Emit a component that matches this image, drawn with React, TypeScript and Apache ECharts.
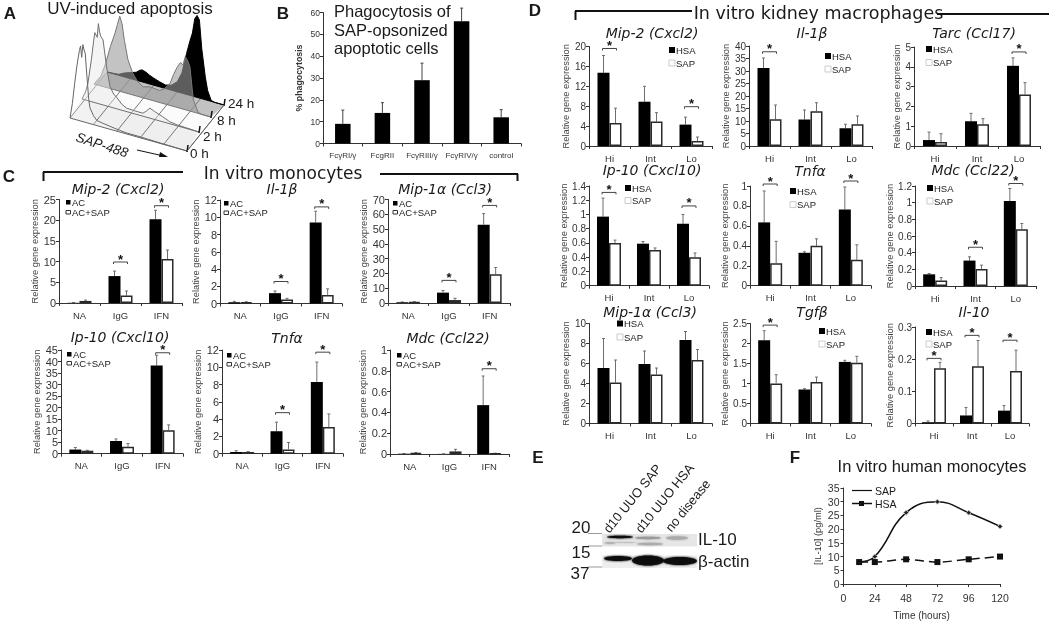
import React, { useEffect, useRef } from "react";
import * as echarts from "echarts";

// ---------- DATA ----------
const treatCats = ["NA", "IgG", "IFN"];
const subsetCats = ["Hi", "Int", "Lo"];
const receptorCats = ["FcγRI/γ", "FcgRII", "FcγRIII/γ", "FcγRIV/γ", "control"];
const phagoValues = [9, 14, 29, 56, 12];
const phagoUpper = [15.3, 18.7, 36.8, 62, 15.5];

// panel C: [AC, AC upper error, AC+SAP, AC+SAP upper error, significance brackets [category, level]]
const cMip2Ac = [0.05, 6.5, 20.2];
const cMip2AcUp = [0.1, 7.7, 22.4];
const cMip2Sap = [0.5, 1.8, 10.6];
const cMip2SapUp = [0.7, 2.9, 12.8];
const cMip2Sig = [[1, 9.9], [2, 23.5]];
const cIl1Ac = [0.15, 1.2, 9.4];
const cIl1AcUp = [0.25, 1.45, 10.7];
const cIl1Sap = [0.15, 0.45, 1.0];
const cIl1SapUp = [0.2, 0.6, 1.7];
const cIl1Sig = [[1, 2.55], [2, 11.2]];
const cMip1Ac = [0.5, 7, 53];
const cMip1AcUp = [0.7, 8.5, 60.5];
const cMip1Sap = [0.7, 2, 19.5];
const cMip1SapUp = [0.9, 3.2, 24];
const cMip1Sig = [[1, 15.3], [2, 66]];
const cIp10Ac = [1.8, 5.5, 38.3];
const cIp10AcUp = [2.7, 6.4, 42.7];
const cIp10Sap = [1.3, 3.0, 10.2];
const cIp10SapUp = [1.5, 4.4, 12.5];
const cIp10Sig = [[2, 43.8]];
const cTnfAc = [0.2, 2.6, 8.3];
const cTnfAcUp = [0.35, 3.65, 10.6];
const cTnfSap = [0.2, 0.5, 3.1];
const cTnfSapUp = [0.25, 1.3, 4.6];
const cTnfSig = [[1, 4.75], [2, 11.75]];
const cMdcAc = [0.003, 0.001, 0.47];
const cMdcAcUp = [0.004, 0.002, 0.75];
const cMdcSap = [0.012, 0.025, 0.006];
const cMdcSapUp = [0.014, 0.045, 0.008];
const cMdcSig = [[2, 0.82]];

// panel D
const dMip2Hsa = [14.7, 8.9, 4.3];
const dMip2HsaUp = [18.2, 12, 5.8];
const dMip2Sap = [4.6, 4.9, 1.0];
const dMip2SapUp = [7.6, 6.7, 1.8];
const dMip2Sig = [[0, 19.6], [2, 7.9]];
const dIl1Hsa = [31.2, 10.6, 7.1];
const dIl1HsaUp = [35.2, 14.4, 8.7];
const dIl1Sap = [10.7, 13.9, 8.7];
const dIl1SapUp = [16.4, 17.3, 12];
const dIl1Sig = [[0, 37.7]];
const dTarcHsa = [0.3, 1.25, 4.05];
const dTarcHsaUp = [0.7, 1.65, 4.45];
const dTarcSap = [0.2, 1.1, 2.6];
const dTarcSapUp = [0.62, 1.38, 3.2];
const dTarcSig = [[2, 4.75]];
const dIp10Hsa = [0.97, 0.59, 0.87];
const dIp10HsaUp = [1.23, 0.62, 1.0];
const dIp10Sap = [0.6, 0.5, 0.4];
const dIp10SapUp = [0.64, 0.53, 0.46];
const dIp10Sig = [[0, 1.31], [2, 1.12]];
const dTnfHsa = [0.635, 0.33, 0.765];
const dTnfHsaUp = [0.95, 0.34, 0.99];
const dTnfSap = [0.225, 0.4, 0.26];
const dTnfSapUp = [0.445, 0.47, 0.41];
const dTnfSig = [[0, 1.02], [2, 1.05]];
const dMdcHsa = [0.14, 0.305, 1.02];
const dMdcHsaUp = [0.15, 0.35, 1.17];
const dMdcSap = [0.065, 0.205, 0.68];
const dMdcSapUp = [0.1, 0.25, 0.75];
const dMdcSig = [[1, 0.465], [2, 1.23]];
const dMip1Hsa = [5.55, 5.95, 8.35];
const dMip1HsaUp = [8.5, 7.25, 9.2];
const dMip1Sap = [4.1, 4.9, 6.35];
const dMip1SapUp = [6.35, 5.55, 7.4];
const dTgfHsa = [2.08, 0.85, 1.54];
const dTgfHsaUp = [2.32, 0.87, 1.58];
const dTgfSap = [1.0, 1.04, 1.52];
const dTgfSapUp = [1.22, 1.16, 1.68];
const dTgfSig = [[0, 2.46]];
const dIl10Hsa = [0.004, 0.025, 0.04];
const dIl10HsaUp = [0.008, 0.05, 0.056];
const dIl10Sap = [0.172, 0.178, 0.163];
const dIl10SapUp = [0.19, 0.258, 0.228];
const dIl10Sig = [[0, 0.2025], [1, 0.274], [2, 0.259]];

// panel F
const timeHours = [12, 24, 48, 72, 96, 120];
const il10Sap = [8, 10, 26, 30, 26, 21];
const il10Hsa = [8, 8, 9, 8, 9, 10];

// panel A: histograms as [SAP-488 channel 0-100, height]
const hist0h = [[0,0],[2,15],[4,36],[6,55],[8,70],[9,75],[10,64],[11,77],[12,72],[13,69],[14.5,46],[16,24],[17,16],[20,9],[23,5],[28,4],[34,3],[40,2],[48,1],[60,1],[75,0.5],[100,0]];
const hist2h = [[0,0],[3,8],[5,17],[8,42],[10,62],[11,70],[13,66],[14,80],[15,72],[16,68],[18,65],[21,39],[24,20],[27,14],[30,11],[34,6],[38,3.5],[45,3],[52,3],[55,6],[58,10],[62,8],[69,5],[75,2],[81,1],[100,0]];
const hist8h = [[0,0],[6,10],[10,24],[14,42],[18,57],[20,66],[22,75],[24,68],[26,52],[29,34],[33,22],[37,15],[42,11],[48,13],[56,12],[60,15],[65,22],[68,32],[71,40],[74,46],[76,44],[78,53],[80,50],[82,44],[84,22],[85,12],[89,1],[92,0],[100,0]];
const hist24h = [[0,0],[10,1],[15,4],[20,6],[25,8],[28,11],[30,12],[33,11],[36,9],[40,7],[45,5],[50,3.5],[55,5],[60,10],[64,20],[68,41],[71,55],[73,63],[75,78],[77,82],[79,78],[81,50],[84,23],[86,10],[89,1],[92,0],[100,0]];
const floorGuides = [0, 20, 40, 60, 80, 100];

// ---------- LAYOUT ----------
const SANS = '"Liberation Sans", Arial, sans-serif';
const VERD = '"DejaVu Sans", Verdana, sans-serif';
const BAR_C = 12;

const fmtNone = undefined;

type P = any;
const panels: P[] = [
  { box: [59, 182, 199.5, 303], max: 25, step: 5, cats: treatCats, a: cMip2Ac, au: cMip2AcUp, b: cMip2Sap, bu: cMip2SapUp, sig: cMip2Sig, names: ["AC", "AC+SAP"], tick: 11, gap: 11 },
  { box: [220, 342, 200, 303.5], max: 12, step: 2, cats: treatCats, a: cIl1Ac, au: cIl1AcUp, b: cIl1Sap, bu: cIl1SapUp, sig: cIl1Sig, names: ["AC", "AC+SAP"], tick: 11, gap: 11 },
  { box: [388, 510, 199.5, 303], max: 70, step: 10, cats: treatCats, a: cMip1Ac, au: cMip1AcUp, b: cMip1Sap, bu: cMip1SapUp, sig: cMip1Sig, names: ["AC", "AC+SAP"], tick: 11, gap: 11 },
  { box: [61, 183, 350, 453.7], max: 45, step: 5, cats: treatCats, a: cIp10Ac, au: cIp10AcUp, b: cIp10Sap, bu: cIp10SapUp, sig: cIp10Sig, names: ["AC", "AC+SAP"], tick: 11, gap: 11 },
  { box: [222, 343, 350, 453.7], max: 12, step: 2, cats: treatCats, a: cTnfAc, au: cTnfAcUp, b: cTnfSap, bu: cTnfSapUp, sig: cTnfSig, names: ["AC", "AC+SAP"], tick: 11, gap: 11 },
  { box: [390, 509, 350, 454], max: 1, step: 0.2, cats: treatCats, a: cMdcAc, au: cMdcAcUp, b: cMdcSap, bu: cMdcSapUp, sig: cMdcSig, names: ["AC", "AC+SAP"], tick: 11, gap: 17 },
  { box: [589, 712, 46.5, 146], max: 20, step: 4, cats: subsetCats, a: dMip2Hsa, au: dMip2HsaUp, b: dMip2Sap, bu: dMip2SapUp, sig: dMip2Sig, names: ["HSA", "SAP"], tick: 10, gap: 12 },
  { box: [749, 872, 46, 146], max: 40, step: 5, cats: subsetCats, a: dIl1Hsa, au: dIl1HsaUp, b: dIl1Sap, bu: dIl1SapUp, sig: dIl1Sig, names: ["HSA", "SAP"], tick: 10, gap: 12 },
  { box: [914, 1040, 47, 146], max: 5, step: 1, cats: subsetCats, a: dTarcHsa, au: dTarcHsaUp, b: dTarcSap, bu: dTarcSapUp, sig: dTarcSig, names: ["HSA", "SAP"], tick: 10, gap: 9 },
  { box: [589, 709, 186, 285.7], max: 1.4, step: 0.2, cats: subsetCats, a: dIp10Hsa, au: dIp10HsaUp, b: dIp10Sap, bu: dIp10SapUp, sig: dIp10Sig, names: ["HSA", "SAP"], tick: 10, gap: 17 },
  { box: [750, 871, 186, 285.7], max: 1, step: 0.2, cats: subsetCats, a: dTnfHsa, au: dTnfHsaUp, b: dTnfSap, bu: dTnfSapUp, sig: dTnfSig, names: ["HSA", "SAP"], tick: 10, gap: 17 },
  { box: [915, 1036, 186, 286], max: 1.2, step: 0.2, cats: subsetCats, a: dMdcHsa, au: dMdcHsaUp, b: dMdcSap, bu: dMdcSapUp, sig: dMdcSig, names: ["HSA", "SAP"], tick: 10, gap: 17 },
  { box: [589, 712, 323.5, 423.5], max: 10, step: 2, cats: subsetCats, a: dMip1Hsa, au: dMip1HsaUp, b: dMip1Sap, bu: dMip1SapUp, sig: [], names: ["HSA", "SAP"], tick: 10, gap: 12 },
  { box: [750, 871, 323.5, 423.5], max: 2.5, step: 0.5, cats: subsetCats, a: dTgfHsa, au: dTgfHsaUp, b: dTgfSap, bu: dTgfSapUp, sig: dTgfSig, names: ["HSA", "SAP"], tick: 10, gap: 17 },
  { box: [915, 1029, 327, 423.5], max: 0.3, step: 0.1, cats: subsetCats, a: dIl10Hsa, au: dIl10HsaUp, b: dIl10Sap, bu: dIl10SapUp, sig: dIl10Sig, names: ["HSA", "SAP"], tick: 10, gap: 17 },
];

const titles: [string, number, number][] = [
  ["Mip-2 (Cxcl2)", 118, 189], ["Il-1β", 282, 189], ["Mip-1α (Ccl3)", 445, 189],
  ["Ip-10 (Cxcl10)", 120, 337], ["Tnfα", 287, 338], ["Mdc (Ccl22)", 448, 338],
  ["Mip-2 (Cxcl2)", 652, 33], ["Il-1β", 812, 33], ["Tarc (Ccl17)", 974, 33],
  ["Ip-10 (Cxcl10)", 652, 170], ["Tnfα", 810, 171], ["Mdc (Ccl22)", 973, 170],
  ["Mip-1α (Ccl3)", 650, 312], ["Tgfβ", 812, 312], ["Il-10", 974, 312],
];

const legendsC: [number, number, number][] = [[68, 202, 212], [226, 203, 212.5], [395, 203, 212], [69, 354, 363], [229, 355, 364], [399, 355, 364]];
const legendsD: [number, number, number][] = [[672, 50, 63], [828, 56, 69], [929, 49, 62.5], [628, 188, 200.5], [793, 191, 204.6], [930, 188, 201], [620, 323.5, 337], [822, 331, 344], [929, 332, 344]];

// ---------- HELPERS ----------
const txt = (text: string, x: number, y: number, size: number, o: any = {}) => ({
  type: "text", x, y, rotation: o.rotation || 0, silent: true,
  style: {
    text, fontSize: size, fontFamily: o.family || SANS, fontStyle: o.italic ? "italic" : "normal",
    fontWeight: o.bold ? "bold" : "normal", fill: o.color || "#1a1a1a",
    align: o.align || "center", verticalAlign: "middle",
  },
});
const seg = (x1: number, y1: number, x2: number, y2: number, w: number, c = "#111") => ({
  type: "line", silent: true, shape: { x1, y1, x2, y2 }, style: { stroke: c, lineWidth: w },
});
const box = (x: number, y: number, w: number, h: number, fill: string, stroke?: string) => ({
  type: "rect", silent: true, shape: { x, y, width: w, height: h }, style: { fill, stroke: stroke || "none", lineWidth: 1 },
});

function errorSeries(i: number, lo: number[], up: number[], offset: number, color = "#6f6f6f") {
  return {
    type: "custom", xAxisIndex: i, yAxisIndex: i, clip: false, silent: true, z: 1,
    encode: { x: 0, y: [1, 2] },
    data: lo.map((v, k) => [k, v, up[k]]),
    renderItem: (_: any, api: any) => {
      const a = api.coord([api.value(0), api.value(1)]);
      const b = api.coord([api.value(0), api.value(2)]);
      const x = a[0] + offset;
      return {
        type: "group",
        children: [
          { type: "line", shape: { x1: x, y1: a[1], x2: x, y2: b[1] }, style: { stroke: color, lineWidth: 1 } },
          { type: "line", shape: { x1: x - 1.5, y1: b[1], x2: x + 1.5, y2: b[1] }, style: { stroke: color, lineWidth: 1 } },
        ],
      };
    },
  };
}

function sigSeries(i: number, sig: number[][]) {
  return {
    type: "custom", xAxisIndex: i, yAxisIndex: i, clip: false, silent: true, z: 3,
    encode: { x: 0, y: 1 },
    data: sig,
    renderItem: (_: any, api: any) => {
      const c = api.coord([api.value(0), api.value(1)]);
      return {
        type: "group",
        children: [
          { type: "polyline", shape: { points: [[c[0] - 7, c[1] + 2], [c[0] - 7, c[1]], [c[0] + 7, c[1]], [c[0] + 7, c[1] + 2]] }, style: { stroke: "#444", fill: "none", lineWidth: 1 } },
          { type: "text", style: { x: c[0], y: c[1] - 3, text: "*", fontSize: 13, fontWeight: "bold", fontFamily: SANS, fill: "#111", align: "center", verticalAlign: "middle" } },
        ],
      };
    },
  };
}

function buildOption() {
  const grid: any[] = [], xAxis: any[] = [], yAxis: any[] = [], series: any[] = [];
  const axisLine = { lineStyle: { color: "#333", width: 1 } };

  panels.forEach((p) => {
    const i = grid.length;
    const [x0, x1, top, bottom] = p.box;
    grid.push({ left: x0, width: x1 - x0, top, height: bottom - top });
    xAxis.push({
      type: "category", gridIndex: i, data: p.cats,
      axisLine, axisTick: { show: true, length: 3, lineStyle: { color: "#333" } },
      axisLabel: { fontSize: 9.5, color: "#333", fontFamily: SANS, margin: 7 },
      splitLine: { show: false },
    });
    yAxis.push({
      type: "value", gridIndex: i, min: 0, max: p.max, interval: p.step,
      name: "Relative gene expression", nameLocation: "middle", nameGap: p.gap,
      nameTextStyle: { fontSize: 9.3, color: "#444", fontFamily: SANS },
      axisLine: { show: true, ...axisLine }, axisTick: { show: true, length: 3, lineStyle: { color: "#333" } },
      axisLabel: { fontSize: p.tick, color: "#333", fontFamily: SANS, margin: 3 },
      splitLine: { show: false },
    });
    series.push({ type: "bar", name: p.names[0], xAxisIndex: i, yAxisIndex: i, data: p.a, barWidth: BAR_C, barGap: 0, itemStyle: { color: "#000" }, z: 2 });
    series.push({ type: "bar", name: p.names[1], xAxisIndex: i, yAxisIndex: i, data: p.b, barWidth: BAR_C, barGap: 0, itemStyle: { color: "#fff", borderColor: "#2a2a2a", borderWidth: 1.5 }, z: 2 });
    series.push(errorSeries(i, p.a, p.au, -BAR_C / 2));
    series.push(errorSeries(i, p.b, p.bu, BAR_C / 2));
    if (p.sig.length) series.push(sigSeries(i, p.sig));
  });

  // panel B
  {
    const i = grid.length;
    grid.push({ left: 323, width: 198, top: 12.5, height: 131 });
    xAxis.push({
      type: "category", gridIndex: i, data: receptorCats,
      axisLine, axisTick: { show: true, length: 3, lineStyle: { color: "#333" } },
      axisLabel: { fontSize: 8, color: "#333", fontFamily: SANS, margin: 8, interval: 0 },
    });
    yAxis.push({
      type: "value", gridIndex: i, min: 0, max: 60, interval: 10,
      name: "% phagocytosis", nameLocation: "middle", nameGap: 20,
      nameTextStyle: { fontSize: 8.8, fontWeight: "bold", color: "#333", fontFamily: SANS },
      axisLine: { show: true, ...axisLine }, axisTick: { show: true, length: 3, lineStyle: { color: "#333" } },
      axisLabel: { fontSize: 8.5, color: "#333", fontFamily: SANS, margin: 3 }, splitLine: { show: false },
    });
    series.push({ type: "bar", name: "% phagocytosis", xAxisIndex: i, yAxisIndex: i, data: phagoValues, barWidth: 15.5, itemStyle: { color: "#000" }, z: 2 });
    series.push(errorSeries(i, phagoValues, phagoUpper, 0, "#444"));
  }

  // panel F
  {
    const i = grid.length;
    grid.push({ left: 843.5, width: 156.5, top: 488, height: 96 });
    xAxis.push({
      type: "value", gridIndex: i, min: 0, max: 120, interval: 24,
      name: "Time (hours)", nameLocation: "middle", nameGap: 26,
      nameTextStyle: { fontSize: 10, color: "#333", fontFamily: SANS },
      axisLine, axisTick: { show: true, length: 3, lineStyle: { color: "#333" } },
      axisLabel: { fontSize: 10.5, color: "#333", fontFamily: SANS, margin: 8 }, splitLine: { show: false },
    });
    yAxis.push({
      type: "value", gridIndex: i, min: 0, max: 35, interval: 5,
      name: "[IL-10] (pg/ml)", nameLocation: "middle", nameGap: 21,
      nameTextStyle: { fontSize: 9.3, color: "#333", fontFamily: SANS },
      axisLine: { show: true, ...axisLine }, axisTick: { show: true, length: 3, lineStyle: { color: "#333" } },
      axisLabel: { fontSize: 10.5, color: "#333", fontFamily: SANS, margin: 4 }, splitLine: { show: false },
    });
    series.push({
      type: "line", name: "SAP", xAxisIndex: i, yAxisIndex: i, smooth: 0.45,
      data: timeHours.map((t, k) => [t, il10Sap[k]]), symbol: "diamond", symbolSize: 5,
      itemStyle: { color: "#222", borderColor: "#bbb", borderWidth: 1 }, lineStyle: { color: "#111", width: 1.5 },
    });
    series.push({
      type: "line", name: "HSA", xAxisIndex: i, yAxisIndex: i, smooth: 0.3,
      data: timeHours.map((t, k) => [t, il10Hsa[k]]), symbol: "rect", symbolSize: 6,
      itemStyle: { color: "#111" }, lineStyle: { color: "#111", width: 1.5, type: [9, 5] },
    });
  }

  // panel A: oblique waterfall, drawn on a hidden grid whose units are screen-sized
  {
    const i = grid.length;
    const LEFT = 60, TOP = 10;
    grid.push({ left: LEFT, width: 180, top: TOP, height: 150 });
    xAxis.push({ type: "value", gridIndex: i, min: 0, max: 180, show: false });
    yAxis.push({ type: "value", gridIndex: i, min: 0, max: 150, inverse: true, show: false });
    const origins: Record<string, number[]> = { h0: [70, 118], h2: [82, 99], h8: [94, 84], h24: [107, 72] };
    const proj = (o: number[], c: number, h: number) => [o[0] + 1.17 * c - LEFT, o[1] + 0.33 * c - h - TOP];
    const one = (render: (api: any) => any, z: number, name?: string) => ({
      type: "custom", name, xAxisIndex: i, yAxisIndex: i, clip: false, silent: true, z,
      encode: { x: 0, y: 1 }, data: [[0, 0]], renderItem: (_: any, api: any) => render(api),
    });
    const band = (a: number[], b: number[], fill: string, z: number) =>
      one((api) => ({
        type: "polygon",
        shape: { points: [proj(a, 0, 0), proj(a, 100, 0), proj(b, 100, 0), proj(b, 0, 0)].map((q) => api.coord(q)) },
        style: { fill, stroke: "none" },
      }), z);
    series.push(band(origins.h24, origins.h8, "#c2c2c2", 1));
    series.push(band(origins.h8, origins.h2, "#fbfbfb", 1));
    series.push(band(origins.h2, origins.h0, "#efefef", 1));
    floorGuides.forEach((c) => {
      series.push(one((api) => ({
        type: "line",
        shape: (() => { const p = api.coord(proj(origins.h0, c, 0)), q = api.coord(proj(origins.h24, c, 0)); return { x1: p[0], y1: p[1], x2: q[0], y2: q[1] }; })(),
        style: { stroke: "#777", lineWidth: 1 },
      }), 2));
    });
    const hist = (name: string, data: number[][], o: number[], fill: string, stroke: string, z: number) =>
      one((api) => ({
        type: "polygon",
        shape: { points: data.map(([c, h]) => api.coord(proj(o, c, h))) },
        style: { fill, stroke, lineWidth: 1 },
      }), z, name);
    series.push(hist("24 h", hist24h, origins.h24, "#000", "#000", 3));
    series.push(hist("8 h", hist8h, origins.h8, "rgba(155,155,155,0.6)", "#777", 4));
    series.push(hist("2 h", hist2h, origins.h2, "rgba(230,230,230,0.45)", "#707070", 5));
    series.push(hist("0 h", hist0h, origins.h0, "rgba(255,255,255,0.2)", "#666", 6));
    [origins.h0, origins.h2, origins.h8, origins.h24].forEach((o) => {
      series.push(one((api) => {
        const p = api.coord(proj(o, 100, 0));
        return { type: "line", shape: { x1: p[0], y1: p[1] + 1, x2: p[0] + 1, y2: p[1] - 6 }, style: { stroke: "#111", lineWidth: 1.5 } };
      }, 7));
    });
    series.push(one((api) => {
      const p = api.coord(proj(origins.h0, 100, 0)), q = api.coord(proj(origins.h24, 100, 0));
      return { type: "line", shape: { x1: p[0], y1: p[1], x2: q[0], y2: q[1] }, style: { stroke: "#666", lineWidth: 1 } };
    }, 7));
  }

  const g: any[] = [];
  // panel letters
  g.push(txt("A", 10, 13, 17, { bold: true }), txt("B", 283, 13, 17, { bold: true }), txt("C", 9, 176, 17, { bold: true }), txt("D", 535, 10, 17, { bold: true }), txt("E", 538, 457, 17, { bold: true }), txt("F", 795, 457, 17, { bold: true }));
  // headings
  g.push(txt("UV-induced apoptosis", 130, 8, 17));
  g.push(txt("Phagocytosis of", 334, 11, 16.5, { align: "left" }), txt("SAP-opsonized", 334, 30, 16.5, { align: "left" }), txt("apoptotic cells", 334, 48, 16.5, { align: "left" }));
  g.push(txt("In vitro monocytes", 283, 173, 17, { family: VERD }));
  g.push(txt("In vitro kidney macrophages", 818.5, 13, 17.5, { family: VERD }));
  g.push(txt("In vitro human monocytes", 932, 466, 16.5));
  g.push(seg(43, 172, 183, 172, 2), seg(43.5, 172, 43.5, 181, 2), seg(380, 174, 518, 174, 2), seg(517.5, 174, 517.5, 181, 2));
  g.push(seg(575, 11, 692, 11, 2), seg(575.5, 11, 575.5, 20, 2), seg(937, 14, 1049, 14, 2));
  titles.forEach(([t, x, y]) => g.push(txt(t, x, y, 14, { family: VERD, italic: true })));
  // legends
  legendsC.forEach(([x, y1, y2]) => {
    g.push(box(x - 2, y1 - 2, 4.5, 4.5, "#000"), txt("AC", x + 4, y1, 9.5, { align: "left" }));
    g.push(box(x - 2, y2 - 1.5, 4.5, 3.5, "#fff", "#333"), txt("AC+SAP", x + 4, y2, 9.5, { align: "left" }));
  });
  legendsD.forEach(([x, y1, y2]) => {
    g.push(box(x - 3, y1 - 3, 6, 6, "#000"), txt("HSA", x + 4, y1, 9.5, { align: "left" }));
    g.push(box(x - 3, y2 - 3, 6, 6, "#fff", "#ccc"), txt("SAP", x + 4, y2, 9.5, { align: "left" }));
  });
  // panel A labels
  g.push(txt("24 h", 228, 103, 13.5, { align: "left" }), txt("8 h", 217, 120, 13.5, { align: "left" }), txt("2 h", 203, 136, 13.5, { align: "left" }), txt("0 h", 190, 153, 13.5, { align: "left" }));
  g.push(txt("SAP-488", 102, 145, 13.5, { italic: true, rotation: -0.31 }));
  g.push(seg(137, 150, 166, 156.5, 1));
  g.push({ type: "polygon", silent: true, shape: { points: [[168, 157], [160, 152], [159, 157]] }, style: { fill: "#111" } });
  // panel E: blot
  g.push(box(602, 534, 95, 12.5, "#e6e6e6"), box(602, 555.5, 95, 12.5, "#eeeeee"));
  const blur = (cx: number, cy: number, rx: number, ry: number, fill: string) => ({
    type: "ellipse", silent: true, shape: { cx, cy, rx, ry }, style: { fill, shadowBlur: 2, shadowColor: fill },
  });
  g.push(blur(620, 537, 13, 1.2, "#111"), blur(610, 543, 6, 0.8, "#aaa"), blur(625, 542.5, 12, 0.6, "#c0c0c0"));
  g.push(blur(648, 538, 13, 1.2, "#999"), blur(650, 544, 13, 1.2, "#aaa"), blur(677, 538, 11, 1.8, "#aaa"));
  g.push(blur(618, 558.5, 14, 2.5, "#0c0c0c"), blur(648, 560.5, 16, 5, "#0c0c0c"), blur(680, 561, 17, 4, "#111"));
  g.push(seg(588, 533.5, 602, 533.5, 1, "#999"), seg(588, 546, 602, 546, 1, "#999"), seg(588, 567, 602, 567, 1, "#999"));
  g.push(txt("20", 581, 527, 17), txt("15", 581, 552, 17), txt("37", 580, 573, 17));
  g.push(txt("IL-10", 698, 539, 17, { align: "left" }), txt("β-actin", 698, 561, 17, { align: "left" }));
  g.push(txt("d10 UUO SAP", 606, 531, 13, { align: "left", rotation: 0.89 }));
  g.push(txt("d10 UUO HSA", 638, 531, 13, { align: "left", rotation: 0.89 }));
  g.push(txt("no disease", 668, 530, 13, { align: "left", rotation: 0.89 }));
  // panel F legend
  g.push(seg(852, 490.5, 872, 490.5, 1.2), txt("SAP", 875, 490.5, 10.5, { align: "left" }));
  g.push(seg(852, 503.5, 872, 503.5, 1.5), box(859, 501, 5, 5, "#111"), txt("HSA", 875, 503.5, 10.5, { align: "left" }));

  return { animation: false, backgroundColor: "#fff", grid, xAxis, yAxis, series, graphic: { elements: g } };
}

export default function App() {
  const ref = useRef<HTMLDivElement>(null);
  useEffect(() => {
    document.body.style.margin = "0";
    const chart = echarts.init(ref.current!, undefined, { renderer: "svg" });
    chart.setOption(buildOption() as any);
    return () => chart.dispose();
  }, []);
  return <div ref={ref} style={{ width: 1050, height: 624, filter: "blur(0.45px)" }} />;
}
